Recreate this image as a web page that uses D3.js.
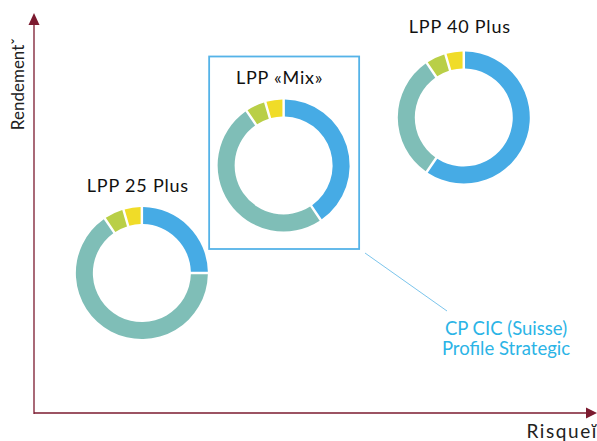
<!DOCTYPE html>
<html>
<head>
<meta charset="utf-8">
<script src="https://cdn.jsdelivr.net/npm/d3@7"></script>
<style>
  body { margin: 0; background: #fff; }
  text { font-family: Lato, "Open Sans", sans-serif; }
</style>
</head>
<body>
<div id="container"></div>
<script>
// profiles and their allocation (share of ring, %)
const profiles = ["LPP 25 Plus", "LPP «Mix»", "LPP 40 Plus"];
const categories = ["bleu", "turquoise", "vert", "jaune"];
const blueShare = [25, 40.5, 59.5];
const tealShare = [65.5, 50, 31];
const greenShare = [5, 5, 5];
const yellowShare = [4.5, 4.5, 4.5];
// position on the risk / return plane (0-10)
const risk = [1.94, 4.49, 7.73];
const rendement = [3.56, 6.3, 7.52];
const highlighted = "LPP «Mix»";
const calloutLines = ["CP CIC (Suisse)", "Profile Strategic"];

const width = 597, height = 441;
const colors = ["#46abe5", "#7fbeb7", "#b9cf47", "#f0dc28"];
const axisColor = "#7b1a2f";

const svg = d3.select('#container').append('svg')
              .attr('width', width)
              .attr('height', height);

const x = d3.scaleLinear().domain([0, 10]).range([34, 590]);
const y = d3.scaleLinear().domain([0, 10]).range([413, 20]);

// axes with arrowheads
svg.append('line')
   .attr('x1', x(0)).attr('y1', y(0) + 1)
   .attr('x2', x(0)).attr('y2', 22)
   .attr('stroke', axisColor).attr('stroke-width', 1.3);
svg.append('path')
   .attr('d', `M${x(0) - 5.5},25 L${x(0)},13 L${x(0) + 5.5},25 Z`)
   .attr('fill', axisColor);
svg.append('line')
   .attr('x1', x(0)).attr('y1', y(0))
   .attr('x2', 588).attr('y2', y(0))
   .attr('stroke', axisColor).attr('stroke-width', 1.3);
svg.append('path')
   .attr('d', `M586,${y(0) - 5.5} L597,${y(0)} L586,${y(0) + 5.5} Z`)
   .attr('fill', axisColor);

svg.append('text')
   .attr('transform', 'translate(24, 84) rotate(-90)')
   .attr('text-anchor', 'middle')
   .attr('font-size', 17)
   .attr('fill', '#222')
   .text('Rendementˇ');
svg.append('text')
   .attr('x', 598).attr('y', 438)
   .attr('text-anchor', 'end')
   .attr('font-size', 19)
   .attr('letter-spacing', 1.6)
   .attr('fill', '#222')
   .text('Risqueĭ');

const pie = d3.pie().sort(null).value(d => d.v);
const arc = d3.arc().innerRadius(49).outerRadius(66).padAngle(0.03);

const rows = profiles.map((p, i) => ({
    name: p,
    cx: x(risk[i]),
    cy: y(rendement[i]),
    parts: categories.map((c, j) => ({
        c: c,
        v: [blueShare, tealShare, greenShare, yellowShare][j][i]
    }))
}));

const groups = svg.selectAll('g.donut')
                  .data(rows)
                  .enter()
                  .append('g')
                  .attr('class', 'donut')
                  .attr('transform', d => `translate(${d.cx},${d.cy})`);

groups.selectAll('path')
      .data(d => pie(d.parts))
      .enter()
      .append('path')
      .attr('d', arc)
      .attr('fill', (d, i) => colors[i]);

groups.append('text')
      .attr('x', -4)
      .attr('y', (d, i) => i === 2 ? -84 : -81)
      .attr('text-anchor', 'middle')
      .attr('font-size', 18)
      .attr('letter-spacing', 0.8)
      .attr('fill', '#111')
      .text(d => d.name);

// highlight box + callout
const h = rows.find(r => r.name === highlighted);
svg.append('rect')
   .attr('x', h.cx - 74.5).attr('y', 56.5)
   .attr('width', 150).attr('height', 192.5)
   .attr('fill', 'none')
   .attr('stroke', '#55b3e8')
   .attr('stroke-width', 1.8);
svg.append('line')
   .attr('x1', 365).attr('y1', 253)
   .attr('x2', 447).attr('y2', 311)
   .attr('stroke', '#6cbde9')
   .attr('stroke-width', 0.9);
svg.append('text')
   .attr('x', 506).attr('y', 335)
   .attr('text-anchor', 'middle')
   .attr('font-size', 18.5)
   .attr('fill', '#2bb4e6')
   .selectAll('tspan')
   .data(calloutLines)
   .enter()
   .append('tspan')
   .attr('x', 506)
   .attr('dy', (d, i) => i ? 20 : 0)
   .text(d => d);
</script>
</body>
</html>
